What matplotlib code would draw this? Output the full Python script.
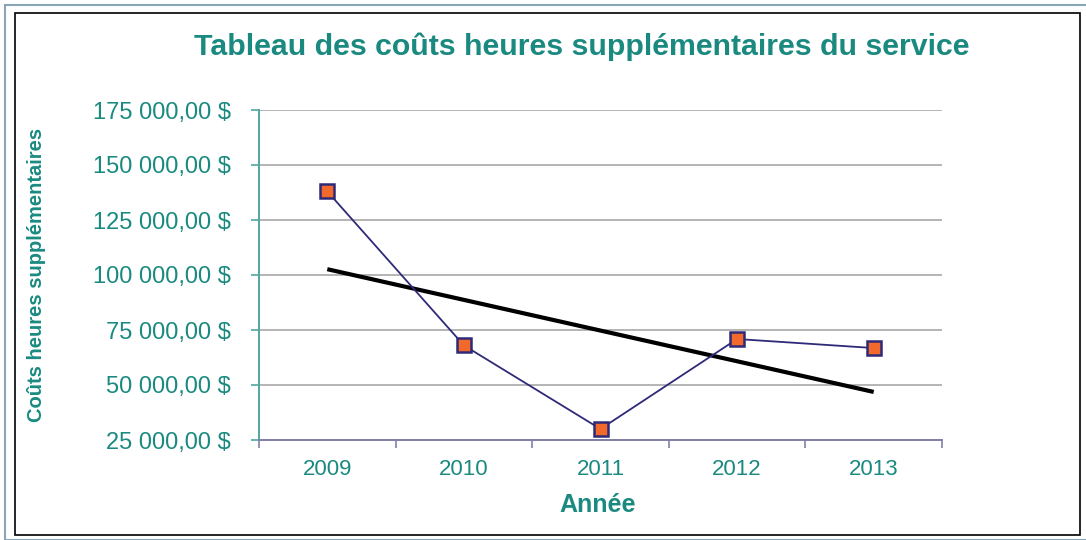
import numpy as np
import matplotlib
matplotlib.use("Agg")
import matplotlib.pyplot as plt
from matplotlib.patches import Rectangle
from matplotlib.ticker import FuncFormatter, FixedLocator

annees = ["2009", "2010", "2011", "2012", "2013"]
couts = [138000, 68000, 30000, 70900, 66800]

TEAL = "#1a8a80"
NAVY = "#2e2a78"
ORANGE = "#f26a2b"

plt.rcParams["font.family"] = ["Liberation Sans", "DejaVu Sans"]

fig = plt.figure(figsize=(10.86, 5.4), dpi=100)
ax = fig.add_axes([259 / 1086, 1 - 440 / 540, (942 - 259) / 1086, 330 / 540])

x = np.arange(1, len(annees) + 1)
ax.plot(x, couts, color=NAVY, lw=1.3, marker="s", ms=10,
        mfc=ORANGE, mec=NAVY, mew=1.8, zorder=3)

# linear trend line
a, b = np.polyfit(x, couts, 1)
ax.plot(x, a * x + b, color="black", lw=3, zorder=2, solid_capstyle="butt")

ax.set_xlim(0.5, len(annees) + 0.5)
ax.set_ylim(25000, 175000)
ax.set_yticks(np.arange(25000, 175001, 25000))
ax.yaxis.set_major_formatter(FuncFormatter(
    lambda v, p: f"{int(v):,}".replace(",", " ") + ",00 $"))
ax.grid(axis="y", color="#a8a8a8", lw=1.2)
ax.set_axisbelow(True)

ax.xaxis.set_major_locator(FixedLocator(np.arange(0.5, len(annees) + 1)))
ax.xaxis.set_minor_locator(FixedLocator(x))
ax.set_xticklabels([])
ax.set_xticklabels(annees, minor=True)
ax.tick_params(axis="x", which="major", length=6, color="#8080a8", width=1.2)
ax.tick_params(axis="x", which="minor", length=0, pad=14,
               labelsize=16, labelcolor=TEAL)
ax.tick_params(axis="y", length=6, color="#50a8a0", width=1.2,
               labelsize=17, labelcolor=TEAL, pad=14)

for s in ["top", "right"]:
    ax.spines[s].set_visible(False)
ax.spines["left"].set_color("#50a8a0")
ax.spines["left"].set_linewidth(1.4)
ax.spines["bottom"].set_color("#8080a8")
ax.spines["bottom"].set_linewidth(1.4)

fig.text(582 / 1086, 1 - 47 / 540,
         "Tableau des coûts heures supplémentaires du service",
         ha="center", va="center", fontsize=21.8, fontweight="bold", color=TEAL)
fig.text(37 / 1086, 1 - 275 / 540, "Coûts heures supplémentaires",
         ha="center", va="center", rotation=90, fontsize=14.5,
         fontweight="bold", color=TEAL)
fig.text(598 / 1086, 1 - 505 / 540, "Année", ha="center", va="center",
         fontsize=18, fontweight="bold", color=TEAL)

# outer frames
fig.patches.append(Rectangle((5 / 1086, 0), 1, 1 - 5 / 540,
                             transform=fig.transFigure, fill=False,
                             ec="#8aa4b8", lw=1.5))
fig.patches.append(Rectangle((15 / 1086, 5 / 540), 1065 / 1086, 522 / 540,
                             transform=fig.transFigure, fill=False,
                             ec="black", lw=1.2))

fig.savefig("out.png", dpi=100)
